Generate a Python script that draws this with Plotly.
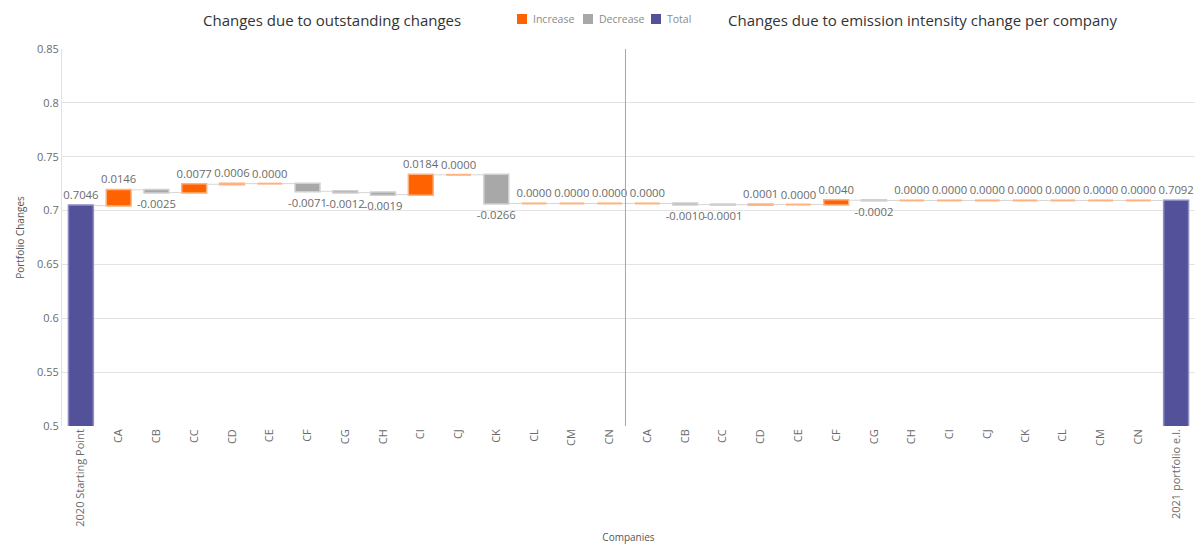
import itertools
import plotly.graph_objects as go

# ---- data ----
start_label = "2020 Starting Point"
end_label = "2021 portfolio e.l."
companies = ["CA", "CB", "CC", "CD", "CE", "CF", "CG", "CH", "CI", "CJ", "CK", "CL", "CM", "CN"]
start_value = 0.7046
outstanding_changes = [0.0146, -0.0025, 0.0077, 0.0006, 0.0000, -0.0071, -0.0012,
                       -0.0019, 0.0184, 0.0000, -0.0266, 0.0000, 0.0000, 0.0000]
intensity_changes = [0.0000, -0.0010, -0.0001, 0.0001, 0.0000, 0.0040, -0.0002,
                     0.0000, 0.0000, 0.0000, 0.0000, 0.0000, 0.0000, 0.0000]
end_value = 0.7092
legend_items = ["Increase", "Decrease", "Total"]

# ---- styling ----
ORANGE = "#FF6200"
ORANGE_EDGE = "#FFB27F"
GREY = "#A8A8A8"
PURPLE = "#525199"
TEXT = "#6b6b6b"
FONT = "Open Sans"
BAR_FRACTION = 0.66

labels = [start_label] + companies + companies + [end_label]
values = [start_value] + outstanding_changes + intensity_changes + [end_value]
measures = ["absolute"] + ["relative"] * (len(companies) * 2) + ["absolute"]
positions = list(range(len(labels)))
texts = [f"{v:.4f}" for v in values]

fig = go.Figure()
fig.add_trace(go.Waterfall(
    x=positions,
    y=values,
    measure=measures,
    base=0,
    text=texts,
    textposition="outside",
    constraintext="none",
    textfont=dict(family=FONT, size=11.3, color=TEXT),
    cliponaxis=False,
    increasing=dict(marker=dict(color=ORANGE, line=dict(color=ORANGE_EDGE, width=1.5))),
    decreasing=dict(marker=dict(color=GREY, line=dict(color="#D0D0D0", width=1.5))),
    totals=dict(marker=dict(color=PURPLE, line=dict(color="#8F8EC4", width=1.5))),
    connector=dict(mode="between", line=dict(color="#D6D6D6", width=1)),
    showlegend=False,
    hoverinfo="skip",
))

# zero-change steps are drawn as a thin edge line at the running level
running = list(itertools.accumulate([start_value] + outstanding_changes + intensity_changes))
zx, zy = [], []
for i, v in enumerate(values[1:-1], start=1):
    if v == 0:
        level = running[i]
        zx += [i - BAR_FRACTION / 2, i + BAR_FRACTION / 2, None]
        zy += [level, level, None]
fig.add_trace(go.Scatter(x=zx, y=zy, mode="lines", line=dict(color=ORANGE_EDGE, width=2),
                         showlegend=False, hoverinfo="skip"))

# plot area geometry in pixels (used for the legend/title placement)
W, H = 1200, 559
L, R, T, B = 62, 5, 49, 133
pw = W - L - R
ph = H - T - B


def px_x(x):
    return (x - L) / pw


def px_y(y):
    return 1 - (y - T) / ph


shapes = [
    # separator between the two groups of companies
    dict(type="line", xref="x", yref="paper", x0=14.42, x1=14.42, y0=0, y1=1,
         line=dict(color="#A6A6A6", width=1)),
]
annotations = [
    dict(text="Changes due to outstanding changes", xref="paper", yref="paper",
         x=px_x(332), y=px_y(20), showarrow=False,
         font=dict(family=FONT, size=15, color="#333333"), xanchor="center", yanchor="middle"),
    dict(text="Changes due to emission intensity change per company", xref="paper", yref="paper",
         x=px_x(923), y=px_y(20), showarrow=False,
         font=dict(family=FONT, size=15, color="#333333"), xanchor="center", yanchor="middle"),
]

# legend drawn as swatches + labels
legend_colors = [ORANGE, GREY, PURPLE]
legend_x = [517, 583, 651]
for name, col, lx in zip(legend_items, legend_colors, legend_x):
    shapes.append(dict(type="rect", xref="paper", yref="paper",
                       x0=px_x(lx), x1=px_x(lx + 10), y0=px_y(24), y1=px_y(14),
                       fillcolor=col, line=dict(width=0)))
    annotations.append(dict(text=name, xref="paper", yref="paper",
                            x=px_x(lx + 14), y=px_y(19), showarrow=False,
                            xanchor="left", yanchor="middle",
                            font=dict(family=FONT, size=10.5, color="#8a8a8a")))

fig.update_layout(
    width=W, height=H,
    margin=dict(l=L, r=R, t=T, b=B),
    paper_bgcolor="white", plot_bgcolor="white",
    font=dict(family=FONT, color=TEXT),
    waterfallgap=1 - BAR_FRACTION,
    shapes=shapes,
    annotations=annotations,
    xaxis=dict(
        range=[-0.5, len(labels) - 0.5],
        tickmode="array", tickvals=positions, ticktext=labels,
        tickangle=-90, tickfont=dict(family=FONT, size=11, color=TEXT),
        showgrid=False, zeroline=False, showline=False, ticks="",
        title=dict(text="Companies", font=dict(family=FONT, size=10, color="#555555"), standoff=8),
    ),
    yaxis=dict(
        range=[0.5, 0.85], dtick=0.05, tick0=0.5,
        tickfont=dict(family=FONT, size=11, color=TEXT),
        showgrid=True, gridcolor="#E3E3E3", gridwidth=1,
        zeroline=False, showline=True, linecolor="#E3E3E3", linewidth=1,
        title=dict(text="Portfolio Changes", font=dict(family=FONT, size=10, color="#555555"), standoff=10),
    ),
)

fig.write_html("out.html")
